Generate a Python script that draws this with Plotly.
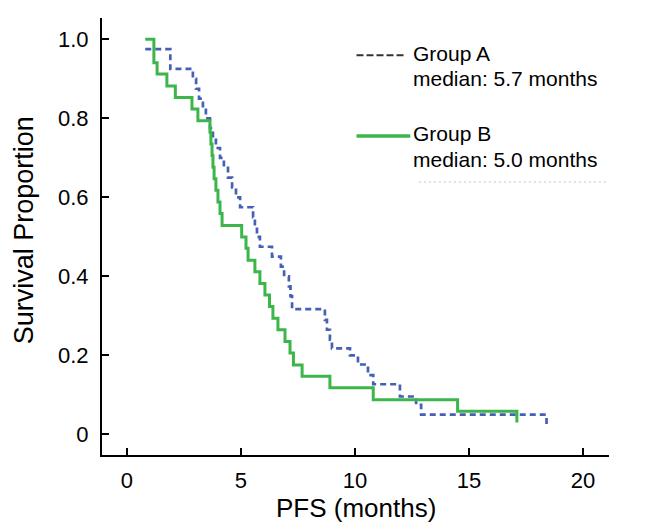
import plotly.graph_objects as go

# Kaplan-Meier step data (time in months, survival proportion)
group_a_time = [0.8, 1.9, 2.89, 3.03, 3.16, 3.33, 3.46, 3.64, 3.77, 3.90, 4.08, 4.25, 4.43, 4.61, 4.78,
                4.96, 5.53, 5.61, 5.70, 5.83, 6.36, 6.75, 6.89, 7.10, 7.17, 7.24, 8.68, 8.77, 8.90, 8.99,
                9.78, 10.13, 10.57, 10.80, 11.97, 12.68, 12.90, 18.4]
group_a_surv = [0.975, 0.925, 0.9, 0.875, 0.85, 0.825, 0.8, 0.775, 0.75, 0.725, 0.7, 0.675, 0.65, 0.625, 0.6,
                0.575, 0.55, 0.525, 0.5, 0.475, 0.45, 0.425, 0.4, 0.375, 0.35, 0.317, 0.29, 0.265, 0.24, 0.218,
                0.2, 0.177, 0.15, 0.127, 0.096, 0.075, 0.05, 0.025]

group_b_time = [0.8, 1.18, 1.32, 1.75, 2.12, 2.85, 3.11, 3.64, 3.68, 3.73, 3.77, 3.82, 3.90, 3.99, 4.08,
                4.17, 5.03, 5.22, 5.31, 5.61, 5.83, 6.05, 6.25, 6.40, 6.62, 6.93, 7.15, 7.30, 7.68, 8.90,
                10.80, 14.5, 17.1]
group_b_surv = [1.0, 0.941, 0.912, 0.882, 0.853, 0.824, 0.794, 0.765, 0.735, 0.706, 0.676, 0.647, 0.618,
                0.588, 0.559, 0.529, 0.5, 0.471, 0.441, 0.412, 0.382, 0.353, 0.324, 0.294, 0.265, 0.235,
                0.206, 0.176, 0.147, 0.118, 0.088, 0.059, 0.03]

group_names = ["Group A", "Group B"]
median_labels = ["median: 5.7 months", "median: 5.0 months"]
x_ticks = [0, 5, 10, 15, 20]
y_ticks = [0, 0.2, 0.4, 0.6, 0.8, 1.0]
y_tick_text = ["0", "0.2", "0.4", "0.6", "0.8", "1.0"]

BLUE = "#4560b5"
GREEN = "#3cb64a"
FONT = "Liberation Sans, Arial, sans-serif"

fig = go.Figure()
fig.add_trace(go.Scatter(x=group_a_time, y=group_a_surv, mode="lines", name=group_names[0],
                         line=dict(shape="hv", color=BLUE, width=2.7, dash="6px,4px"), showlegend=False))
fig.add_trace(go.Scatter(x=group_b_time, y=group_b_surv, mode="lines", name=group_names[1],
                         line=dict(shape="hv", color=GREEN, width=3), showlegend=False))

# Legend drawn manually (paper coordinates)
fig.add_shape(type="line", xref="paper", yref="paper", x0=0.502, x1=0.6, y0=0.915, y1=0.915,
              line=dict(color="#333333", width=2, dash="7px,3px"))
fig.add_shape(type="line", xref="paper", yref="paper", x0=0.502, x1=0.608, y0=0.73, y1=0.73,
              line=dict(color=GREEN, width=3.5))
fig.add_shape(type="line", xref="paper", yref="paper", x0=0.625, x1=0.995, y0=0.625, y1=0.625,
              line=dict(color="#d8d8d8", width=1.5, dash="2px,3px"))

legend_y = [(0.918, 0.862), (0.735, 0.676)]
for name, med, (yn, ym) in zip(group_names, median_labels, legend_y):
    fig.add_annotation(text=name, xref="paper", yref="paper", x=0.61, y=yn, xanchor="left",
                       yanchor="middle", showarrow=False, font=dict(family=FONT, size=21, color="black"))
    fig.add_annotation(text=med, xref="paper", yref="paper", x=0.61, y=ym, xanchor="left",
                       yanchor="middle", showarrow=False, font=dict(family=FONT, size=21, color="black"))

# Axis titles
fig.add_annotation(text="PFS (months)", xref="paper", yref="paper", x=0.5, y=-0.122, xanchor="center",
                   yanchor="middle", showarrow=False, font=dict(family=FONT, size=26, color="black"))
fig.add_annotation(text="Survival Proportion", xref="paper", yref="paper", x=-0.153, y=0.515,
                   xanchor="center", yanchor="middle", textangle=-90, showarrow=False,
                   font=dict(family=FONT, size=27, color="black"))

# The page body has an 8px margin, so the figure is reduced by 8px and margins shifted.
fig.update_layout(
    width=660, height=523,
    margin=dict(l=94, r=59, t=10, b=76),
    paper_bgcolor="white", plot_bgcolor="white",
    font=dict(family=FONT, color="black"),
    xaxis=dict(range=[-1.096, 21.14], tickvals=x_ticks, ticks="inside", ticklen=7, tickwidth=2,
               tickcolor="black", showline=True, linecolor="black", linewidth=2, showgrid=False,
               zeroline=False, tickfont=dict(family=FONT, size=22, color="black"), ticklabelstandoff=5),
    yaxis=dict(range=[-0.052, 1.054], tickvals=y_ticks, ticktext=y_tick_text, ticks="inside", ticklen=7,
               tickwidth=2, tickcolor="black", showline=True, linecolor="black", linewidth=2,
               showgrid=False, zeroline=False, tickfont=dict(family=FONT, size=22, color="black"),
               ticklabelstandoff=7),
)

fig.write_html("out.html")
